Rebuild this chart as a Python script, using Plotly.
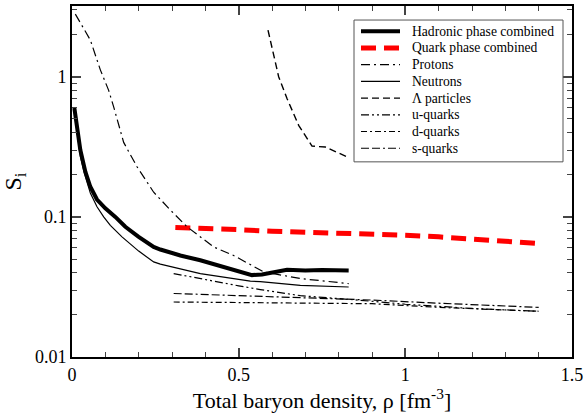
import plotly.graph_objects as go

# Hadronic phase combined (thick black)
x_had = [0.007, 0.015, 0.025, 0.04, 0.055, 0.075, 0.1, 0.13, 0.16, 0.2, 0.245, 0.265,
         0.325, 0.385, 0.45, 0.54, 0.57, 0.6, 0.645, 0.7, 0.75, 0.83]
s_had = [0.6, 0.42, 0.30, 0.21, 0.164, 0.133, 0.115, 0.1, 0.085, 0.072, 0.061, 0.0585,
         0.053, 0.049, 0.044, 0.0384, 0.0388, 0.0398, 0.042, 0.0415, 0.0418, 0.0415]

# Quark phase combined (thick red dashed)
x_qrk = [0.31, 0.4, 0.5, 0.6, 0.7, 0.8, 0.9, 1.0, 1.1, 1.2, 1.3, 1.4]
s_qrk = [0.084, 0.083, 0.081, 0.079, 0.078, 0.076, 0.075, 0.074, 0.072, 0.07, 0.067, 0.0646]

# Protons
x_p = [0.01, 0.03, 0.055, 0.085, 0.11, 0.125, 0.155, 0.195, 0.245, 0.295, 0.345,
       0.425, 0.485, 0.575, 0.685, 0.83]
s_p = [2.8, 2.3, 1.83, 1.12, 0.8, 0.61, 0.34, 0.228, 0.15, 0.112, 0.085,
       0.061, 0.053, 0.0405, 0.0363, 0.0334]

# Neutrons
x_n = [0.007, 0.015, 0.025, 0.037, 0.055, 0.075, 0.095, 0.115, 0.15, 0.2, 0.245,
       0.265, 0.385, 0.535, 0.565, 0.685, 0.83]
s_n = [0.58, 0.4, 0.27, 0.205, 0.148, 0.118, 0.1, 0.087, 0.072, 0.057, 0.0477,
       0.046, 0.0394, 0.0348, 0.0345, 0.0325, 0.0316]

# Lambda particles
x_l = [0.588, 0.62, 0.645, 0.68, 0.72, 0.76, 0.83]
s_l = [2.15, 1.0, 0.70, 0.45, 0.32, 0.315, 0.265]

# quarks
x_u = [0.305, 0.4, 0.5, 0.565, 0.685, 0.865, 1.0, 1.2, 1.4]
s_u = [0.0394, 0.0356, 0.0322, 0.0303, 0.0274, 0.0254, 0.0238, 0.0222, 0.0212]
x_d = [0.305, 0.6, 0.9, 1.1, 1.4]
s_d = [0.0247, 0.0243, 0.024, 0.0226, 0.0212]
x_s = [0.305, 0.6, 0.9, 1.1, 1.4]
s_s = [0.0284, 0.027, 0.0255, 0.0242, 0.0226]

FONT = "Liberation Serif"

# name, x, y, color, width, dash
SERIES = [
    ("Hadronic phase combined", x_had, s_had, "black", 4, "solid"),
    ("Quark phase combined", x_qrk, s_qrk, "#ff0000", 5, "15px,8px"),
    ("Protons", x_p, s_p, "black", 1.2, "9px,4px,2px,4px"),
    ("Neutrons", x_n, s_n, "black", 1.2, "solid"),
    ("Λ particles", x_l, s_l, "black", 1.4, "7px,4px"),
    ("u-quarks", x_u, s_u, "black", 1.2, "8px,3px,2px,3px,2px,3px"),
    ("d-quarks", x_d, s_d, "black", 1.2, "6px,3px,2px,3px"),
    ("s-quarks", x_s, s_s, "black", 1.2, "8px,3px,8px,3px,2px,3px"),
]

fig = go.Figure()
for name, x, y, color, width, dash in SERIES:
    fig.add_trace(go.Scatter(x=x, y=y, mode="lines", name=name, showlegend=False,
                             line=dict(color=color, width=width, dash=dash)))

# hand-built legend, tighter than plotly's own
fig.add_shape(type="rect", xref="paper", yref="paper", x0=0.564, x1=0.982, y0=0.556, y1=0.960,
              line=dict(color="#555", width=1), fillcolor="white", layer="above")
for i, (name, x, y, color, width, dash) in enumerate(SERIES):
    yy = 0.928 - i * 0.0476
    fig.add_shape(type="line", xref="paper", yref="paper", x0=0.578, x1=0.656, y0=yy, y1=yy,
                  line=dict(color=color, width=width, dash=dash))
    fig.add_annotation(xref="paper", yref="paper", x=0.676, y=yy, text=name, showarrow=False,
                       xanchor="left", yanchor="middle",
                       font=dict(family=FONT, size=13.6, color="black"))

minor_y = [m * 10 ** e for e in (-2, -1, 0) for m in range(2, 10)]
minor_y = [v for v in minor_y if v < 3.2]

fig.update_layout(
    width=587, height=415,
    margin=dict(l=72, r=15, t=6, b=58, autoexpand=False),
    paper_bgcolor="white", plot_bgcolor="white",
    font=dict(family=FONT, color="black", size=17),
    showlegend=False,
)
fig.update_xaxes(
    range=[0, 1.5], tickvals=[0, 0.5, 1, 1.5], ticktext=["0", "0.5", "1", "1.5"],
    tickfont=dict(family=FONT, size=18), ticklabeloverflow="allow",
    ticks="inside", ticklen=9, tickwidth=1.5, showline=True, linewidth=2, linecolor="black",
    mirror="allticks", showgrid=False, zeroline=False, automargin=False,
    minor=dict(tickvals=[0.1, 0.2, 0.3, 0.4, 0.6, 0.7, 0.8, 0.9, 1.1, 1.2, 1.3, 1.4],
               ticks="inside", ticklen=5, tickwidth=1, showgrid=False),
    title=dict(text="Total baryon density, ρ [fm<sup>-3</sup>]",
               font=dict(family=FONT, size=22), standoff=6),
)
fig.update_yaxes(
    type="log", range=[-2, 0.505], tickvals=[0.01, 0.1, 1], ticktext=["0.01", "0.1", "1"],
    tickfont=dict(family=FONT, size=18), ticklabeloverflow="allow",
    ticks="inside", ticklen=9, tickwidth=1.5, showline=True, linewidth=2, linecolor="black",
    mirror="allticks", showgrid=False, zeroline=False, automargin=False,
    minor=dict(tickvals=minor_y, ticks="inside", ticklen=5, tickwidth=1, showgrid=False),
    title=dict(text="S<sub>i</sub>", font=dict(family=FONT, size=24), standoff=10),
)

fig.write_html("out.html", config={"displayModeBar": False},
               post_script="document.body.style.margin='0';")
